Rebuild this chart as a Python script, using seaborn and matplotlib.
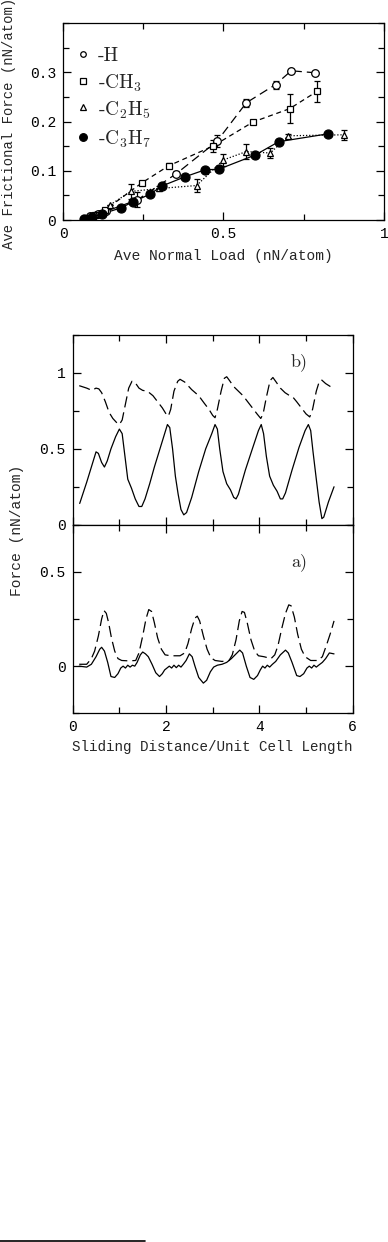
import numpy as np
import pandas as pd
import matplotlib
matplotlib.use('Agg')
import matplotlib.pyplot as plt
from matplotlib.lines import Line2D
from matplotlib.ticker import MultipleLocator
import seaborn as sns

# ---- top panel: friction vs load ----
h_load = [0.065, 0.085, 0.11, 0.135, 0.232, 0.353, 0.48, 0.571, 0.662, 0.711, 0.785]
h_force = [0.003, 0.008, 0.012, 0.018, 0.041, 0.094, 0.160, 0.238, 0.275, 0.303, 0.299]
h_err = [0.0, 0.0, 0.0, 0.0, 0.015, 0.005, 0.012, 0.008, 0.008, 0.003, 0.0]

ch3_load = [0.07, 0.10, 0.13, 0.247, 0.329, 0.467, 0.592, 0.706, 0.791]
ch3_force = [0.004, 0.010, 0.020, 0.076, 0.110, 0.150, 0.199, 0.226, 0.261]
ch3_err = [0.0, 0.0, 0.0, 0.003, 0.005, 0.012, 0.005, 0.030, 0.021]

c2h5_load = [0.07, 0.10, 0.145, 0.211, 0.30, 0.416, 0.50, 0.571, 0.646, 0.702, 0.874]
c2h5_force = [0.004, 0.012, 0.030, 0.058, 0.064, 0.070, 0.122, 0.139, 0.136, 0.171, 0.173]
c2h5_err = [0.0, 0.0, 0.0, 0.016, 0.006, 0.013, 0.012, 0.015, 0.010, 0.004, 0.010]

c3h7_load = [0.065, 0.09, 0.12, 0.182, 0.218, 0.27, 0.308, 0.381, 0.443, 0.485, 0.599, 0.672, 0.826]
c3h7_force = [0.002, 0.006, 0.012, 0.025, 0.037, 0.052, 0.069, 0.088, 0.102, 0.103, 0.132, 0.159, 0.175]

legend_names = ['-H', '-CH$_3$', '-C$_2$H$_5$', '-C$_3$H$_7$']

# ---- bottom panels: force vs sliding distance ----
b_solid_x = [0.15, 0.3, 0.42, 0.5, 0.55, 0.62, 0.68, 0.74, 0.82, 0.92, 1.0, 1.06, 1.12, 1.18, 1.26,
             1.34, 1.42, 1.48, 1.55, 1.65, 1.75, 1.85, 1.95, 2.03, 2.08, 2.14, 2.2, 2.26, 2.32, 2.38,
             2.44, 2.55, 2.7, 2.85, 2.98, 3.05, 3.1, 3.15, 3.22, 3.3, 3.38, 3.45, 3.5, 3.55, 3.7,
             3.85, 3.98, 4.04, 4.09, 4.15, 4.22, 4.3, 4.38, 4.45, 4.5, 4.56, 4.7, 4.85, 4.98, 5.05,
             5.1, 5.15, 5.22, 5.28, 5.34, 5.38, 5.48, 5.6]
b_solid_y = [0.14, 0.28, 0.40, 0.48, 0.47, 0.41, 0.38, 0.42, 0.50, 0.58, 0.63, 0.60, 0.45, 0.30, 0.24,
             0.17, 0.12, 0.12, 0.17, 0.27, 0.38, 0.48, 0.58, 0.66, 0.64, 0.50, 0.32, 0.20, 0.10, 0.065,
             0.08, 0.18, 0.35, 0.50, 0.60, 0.66, 0.63, 0.50, 0.35, 0.27, 0.23, 0.18, 0.17, 0.20, 0.36,
             0.50, 0.62, 0.66, 0.60, 0.45, 0.32, 0.26, 0.22, 0.17, 0.17, 0.21, 0.36, 0.51, 0.62, 0.66,
             0.62, 0.48, 0.30, 0.15, 0.04, 0.05, 0.15, 0.25]

b_dash_x = [0.14, 0.3, 0.41, 0.5, 0.56, 0.62, 0.7, 0.78, 0.86, 0.95, 1.0, 1.06, 1.12, 1.2, 1.27, 1.33,
            1.42, 1.5, 1.6, 1.72, 1.82, 1.92, 2.0, 2.05, 2.1, 2.17, 2.25, 2.3, 2.4, 2.55, 2.7, 2.82,
            2.92, 3.0, 3.05, 3.1, 3.18, 3.25, 3.3, 3.36, 3.45, 3.55, 3.65, 3.75, 3.85, 3.95, 4.03,
            4.08, 4.15, 4.23, 4.29, 4.36, 4.45, 4.55, 4.65, 4.72, 4.8, 4.9, 5.0, 5.08, 5.14, 5.22,
            5.28, 5.33, 5.42, 5.6]
b_dash_y = [0.916, 0.9, 0.885, 0.9, 0.895, 0.87, 0.81, 0.74, 0.70, 0.67, 0.66, 0.69, 0.78, 0.90, 0.945,
            0.94, 0.90, 0.885, 0.88, 0.85, 0.81, 0.77, 0.73, 0.715, 0.76, 0.88, 0.945, 0.958, 0.94,
            0.89, 0.85, 0.80, 0.76, 0.72, 0.705, 0.76, 0.88, 0.965, 0.975, 0.95, 0.91, 0.88, 0.85,
            0.81, 0.77, 0.73, 0.70, 0.73, 0.84, 0.95, 0.97, 0.94, 0.90, 0.87, 0.85, 0.84, 0.81,
            0.77, 0.73, 0.71, 0.76, 0.88, 0.94, 0.955, 0.93, 0.895]

a_solid_x = [0.14, 0.3, 0.4, 0.5, 0.58, 0.62, 0.68, 0.75, 0.82, 0.9, 0.97, 1.03, 1.08, 1.13, 1.18,
             1.23, 1.28, 1.33, 1.38, 1.45, 1.5, 1.56, 1.62, 1.7, 1.78, 1.86, 1.92, 1.97, 2.02, 2.07,
             2.12, 2.17, 2.22, 2.27, 2.32, 2.37, 2.43, 2.5, 2.56, 2.62, 2.7, 2.8, 2.87, 2.95, 3.02,
             3.1, 3.2, 3.3, 3.4, 3.5, 3.58, 3.64, 3.72, 3.8, 3.88, 3.96, 4.02, 4.07, 4.12, 4.17,
             4.22, 4.28, 4.35, 4.45, 4.56, 4.62, 4.7, 4.8, 4.87, 4.95, 5.02, 5.07, 5.12, 5.17, 5.22,
             5.27, 5.35, 5.42, 5.5, 5.6]
a_solid_y = [0.0, -0.005, 0.01, 0.05, 0.09, 0.10, 0.08, 0.02, -0.055, -0.06, -0.04, -0.01, 0.0, -0.01,
             0.005, -0.005, 0.005, 0.0, 0.02, 0.06, 0.075, 0.065, 0.05, 0.01, -0.035, -0.055, -0.04,
             -0.02, -0.01, 0.0, -0.01, 0.005, -0.008, 0.005, -0.005, 0.01, 0.03, 0.065, 0.05, 0.0,
             -0.06, -0.09, -0.075, -0.03, -0.005, 0.005, 0.01, 0.02, 0.04, 0.065, 0.085, 0.07, 0.0,
             -0.06, -0.07, -0.05, -0.02, 0.0, -0.01, 0.005, -0.005, 0.01, 0.025, 0.06, 0.085, 0.07,
             0.02, -0.05, -0.055, -0.04, -0.01, 0.0, -0.01, 0.005, -0.005, 0.005, 0.02, 0.04, 0.07,
             0.065]

a_dash_x = [0.14, 0.3, 0.4, 0.47, 0.55, 0.62, 0.67, 0.72, 0.77, 0.83, 0.9, 0.97, 1.05, 1.2, 1.35,
            1.42, 1.5, 1.57, 1.63, 1.69, 1.75, 1.82, 1.9, 1.98, 2.1, 2.3, 2.4, 2.47, 2.55, 2.62,
            2.67, 2.72, 2.8, 2.88, 2.96, 3.05, 3.2, 3.35, 3.42, 3.5, 3.57, 3.63, 3.68, 3.74, 3.82,
            3.9, 3.98, 4.1, 4.25, 4.33, 4.4, 4.48, 4.56, 4.63, 4.68, 4.75, 4.82, 4.9, 4.98, 5.1,
            5.25, 5.35, 5.45, 5.53, 5.6]
a_dash_y = [0.01, 0.01, 0.04, 0.08, 0.16, 0.25, 0.295, 0.28, 0.23, 0.15, 0.08, 0.04, 0.03, 0.028,
            0.03, 0.07, 0.16, 0.25, 0.30, 0.29, 0.23, 0.15, 0.09, 0.06, 0.055, 0.055, 0.07, 0.12,
            0.20, 0.255, 0.265, 0.24, 0.16, 0.09, 0.045, 0.03, 0.025, 0.03, 0.06, 0.14, 0.24, 0.29,
            0.285, 0.23, 0.14, 0.08, 0.055, 0.05, 0.04, 0.06, 0.11, 0.20, 0.28, 0.325, 0.32, 0.26,
            0.17, 0.09, 0.05, 0.03, 0.03, 0.05, 0.12, 0.18, 0.24]

sns.set_style("ticks")
plt.rcParams['font.family'] = ['Liberation Mono', 'DejaVu Sans']
plt.rcParams['mathtext.fontset'] = 'cm'

W, H = 388, 1242
fig = plt.figure(figsize=(W / 100, H / 100), dpi=100)


def px_axes(left, top, right, bottom):
    return fig.add_axes([left / W, 1 - bottom / H, (right - left) / W, (bottom - top) / H])


def style_axes(ax):
    for s in ax.spines.values():
        s.set_linewidth(0.9)
        s.set_color('k')
    ax.tick_params(which='both', direction='in', top=True, right=True, colors='k',
                   labelsize=10.5, width=0.9, pad=5)
    ax.tick_params(which='major', length=6)
    ax.tick_params(which='minor', length=4)


lw = 0.9
# ---------- top chart ----------
ax = px_axes(63, 23, 384, 220)
series = [
    (h_load, h_force, h_err, 'o', False, (0, (7, 4))),
    (ch3_load, ch3_force, ch3_err, 's', False, (0, (4, 3))),
    (c2h5_load, c2h5_force, c2h5_err, '^', False, (0, (1, 1.5))),
    (c3h7_load, c3h7_force, None, 'o', True, '-'),
]
msize = {'o': 5.5, 's': 4.5, '^': 5}
for xs, ys, err, mk, filled, ls in series:
    df = pd.DataFrame({'load': xs, 'force': ys})
    sns.lineplot(data=df, x='load', y='force', ax=ax, color='k', lw=lw, linestyle=ls,
                 sort=False, estimator=None)
    ax.plot(xs, ys, linestyle='none', marker=mk, ms=6.5 if filled else msize[mk],
            mfc='k' if filled else 'white', mec='k', mew=0.9, zorder=4)
    if err is not None:
        ax.errorbar(xs, ys, yerr=err, fmt='none', ecolor='k', elinewidth=0.9, capsize=2.5,
                    capthick=0.9, zorder=3)

ax.set_xlim(0, 1)
ax.set_ylim(0, 0.4)
ax.xaxis.set_minor_locator(MultipleLocator(0.25))
ax.yaxis.set_minor_locator(MultipleLocator(0.05))
ax.set_xticks([0, 0.5, 1])
ax.set_xticklabels(['0', '0.5', '1'])
ax.set_yticks([0, 0.1, 0.2, 0.3])
ax.set_yticklabels(['0', '0.1', '0.2', '0.3'])
style_axes(ax)
ax.set_xlabel('Ave Normal Load (nN/atom)', fontsize=10.5, labelpad=6)
ax.set_ylabel('Ave Frictional Force (nN/atom)', fontsize=10)
ax.yaxis.set_label_coords(-0.145, 0.49)

# legend drawn by hand
leg_y = [0.337, 0.282, 0.229, 0.169]
leg_mk = [('o', False, 4), ('s', False, 3.8), ('^', False, 4.2), ('o', True, 5.5)]
for yy, (mk, filled, ms), name in zip(leg_y, leg_mk, legend_names):
    ax.plot([0.062], [yy], marker=mk, ms=ms, mfc='k' if filled else 'white', mec='k',
            mew=0.9, linestyle='none')
    ax.text(0.108, yy, name, fontsize=14, va='center_baseline', ha='left', family='cmr10')

# ---------- bottom chart ----------
ax_b = px_axes(72.7, 335, 352.7, 524.7)
ax_a = px_axes(72.7, 524.7, 352.7, 713.3)

for axx, sx, sy, dx, dy in [(ax_b, b_solid_x, b_solid_y, b_dash_x, b_dash_y),
                            (ax_a, a_solid_x, a_solid_y, a_dash_x, a_dash_y)]:
    sns.lineplot(x=sx, y=sy, ax=axx, color='k', lw=lw, sort=False, estimator=None)
    sns.lineplot(x=dx, y=dy, ax=axx, color='k', lw=lw, linestyle=(0, (9, 4)),
                 sort=False, estimator=None)
    axx.set_xlim(0, 6)
    axx.xaxis.set_major_locator(MultipleLocator(2))
    axx.xaxis.set_minor_locator(MultipleLocator(1))
    axx.yaxis.set_minor_locator(MultipleLocator(0.25))
    style_axes(axx)

ax_b.set_ylim(0, 1.25)
ax_b.set_yticks([0, 0.5, 1])
ax_b.set_yticklabels(['0', '0.5', '1'])
ax_b.tick_params(labelbottom=False)
ax_b.text(4.85, 1.07, 'b)', fontsize=13, ha='center', va='center', family='cmr10')

ax_a.set_ylim(-0.25, 0.75)
ax_a.set_yticks([0, 0.5])
ax_a.set_yticklabels(['0', '0.5'])
ax_a.set_xticks([0, 2, 4, 6])
ax_a.set_xticklabels(['0', '2', '4', '6'])
ax_a.set_xlabel('Sliding Distance/Unit Cell Length', fontsize=10.3, labelpad=4)
ax_a.text(4.85, 0.55, 'a)', fontsize=13, ha='center', va='center', family='cmr10')

fig.text(17 / W, 1 - 530 / H, 'Force (nN/atom)', rotation=90, fontsize=10.5,
         ha='center', va='center')

# footnote rule at bottom of page
fig.add_artist(Line2D([0, 145 / W], [1 - 1240.5 / H] * 2, color='k', lw=1.2))

fig.savefig('out.png', dpi=100)
